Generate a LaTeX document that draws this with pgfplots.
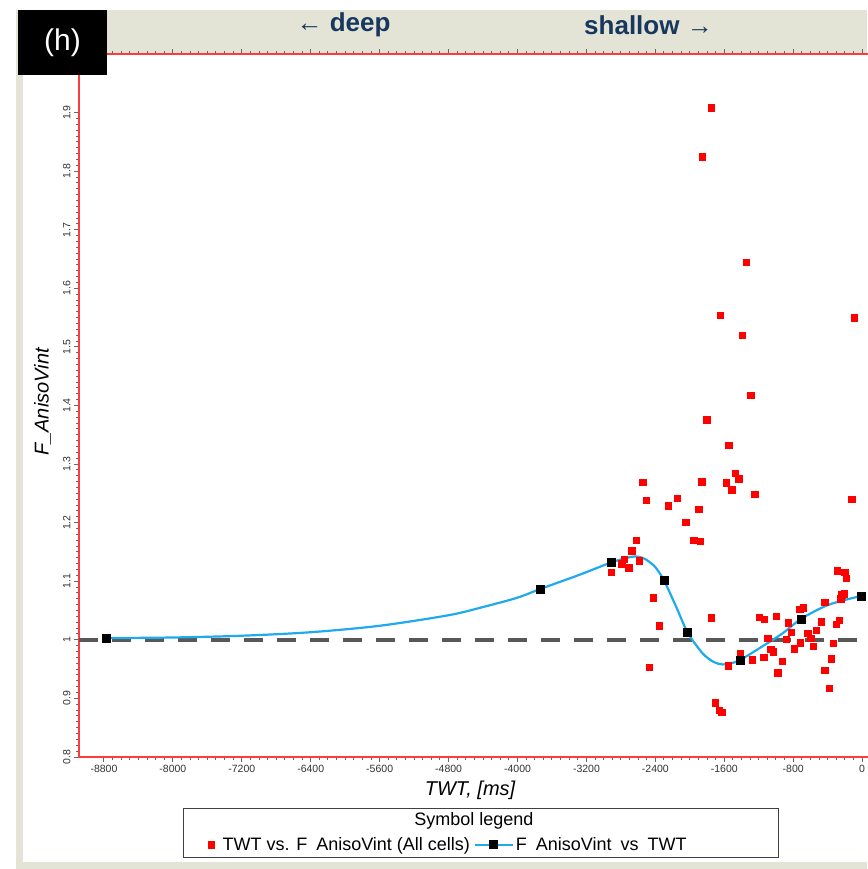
\documentclass[border=0pt]{standalone}
\usepackage{fontspec}
\setmainfont{Liberation Sans}
\usepackage{pgfplots}
\pgfplotsset{compat=1.18}

\definecolor{framebeige}{RGB}{228,228,214}
\definecolor{titlenavy}{RGB}{23,55,94}
\definecolor{curvecyan}{RGB}{30,170,235}
\definecolor{axisred}{RGB}{255,60,60}
\definecolor{refgrey}{RGB}{88,88,88}

\pgfplotsset{
    cyan legend/.style={legend image code/.code={\draw[##1, mark repeat=2, mark phase=2]
        plot coordinates {(0pt,0pt) (19pt,0pt) (38pt,0pt)};}},
}

\begin{document}
\begin{tikzpicture}
% page frame, in pixel units of the reference (axis corner at 79,112)
\begin{scope}[x=1pt, y=1pt, shift={(-79pt,-112pt)}]
\fill[white] (0,0) rectangle (867,869);
\fill[framebeige] (16,0) rectangle (23,859);
\fill[framebeige] (16,816) rectangle (867,859);
\fill[framebeige] (16,0) rectangle (867,7);
\end{scope}

\begin{axis}[
    scale only axis, width=790pt, height=703pt,
    xmin=-9090, xmax=80, ymin=0.8, ymax=2.0,
    xtick={-8800,-8000,...,0},
    ytick={0.8,0.9,...,1.9},
    minor x tick num=7, minor y tick num=9,
    xtick pos=both, ytick pos=left,
    tick align=outside,
    major tick length=5pt, minor tick length=3pt,
    every tick/.style={black!60, line width=1pt},
    axis line style={axisred, line width=1.5pt},
    /pgf/number format/.cd, 1000 sep={}, assume math mode=true, /pgfplots/.cd,
    tick label style={font=\fontsize{10.5}{12}\selectfont, text=black!80},
    xticklabel pos=lower,
    yticklabel style={rotate=90, anchor=south},
    xlabel={\itshape TWT, [ms]},
    ylabel={\itshape F\_AnisoVint},
    xlabel style={at={(axis description cs:0.495,-0.047)}, anchor=center, font=\fontsize{20}{22}\selectfont},
    ylabel style={at={(axis description cs:-0.046,0.505)}, anchor=center, rotate=0, font=\fontsize{20}{22}\selectfont},
    legend style={at={(0.1595,-0.1250)}, anchor=west, draw=none, fill=none,
        font=\fontsize{18}{20}\selectfont, legend columns=2,
        /tikz/every even column/.append style={column sep=2pt}},
    legend cell align=left,
]
% reference line at 1
\addplot[refgrey, line width=4.5pt, dash pattern=on 19pt off 14pt, forget plot]
    coordinates {(-9090,1) (-50,1)};

% TWT vs F_AnisoVint, all cells
\addplot[only marks, mark=square*, mark size=3.2pt, red, forget plot] table {
x y
-1754 1.908
-1856 1.825
-1345 1.645
-1650 1.554
-93 1.550
-1395 1.520
-1295 1.418
-1805 1.376
-1547 1.332
-2547 1.269
-1860 1.270
-1581 1.268
-1476 1.284
-1434 1.275
-1516 1.256
-1245 1.249
-121 1.240
-2508 1.238
-2149 1.242
-2249 1.229
-1898 1.223
-2046 1.201
-1956 1.170
-1882 1.168
-2624 1.170
-2675 1.152
-2760 1.138
-2791 1.130
-2586 1.135
-2709 1.123
-2914 1.115
-2428 1.072
-2358 1.024
-2470 0.953
-1752 1.038
-1704 0.893
-1658 0.880
-1631 0.876
-1557 0.956
-1418 0.977
-1279 0.966
-1194 1.039
-1137 1.035
-997 1.040
-1094 1.003
-1141 0.970
-1060 0.984
-1032 0.980
-978 0.944
-928 0.964
-882 1.001
-855 1.029
-824 1.013
-785 0.985
-723 1.052
-681 1.055
-716 0.995
-630 1.011
-596 1.003
-568 0.989
-534 1.016
-476 1.031
-434 1.064
-336 0.994
-356 0.968
-434 0.948
-383 0.917
-302 1.027
-267 1.034
-290 1.118
-201 1.115
-185 1.105
-236 1.077
-209 1.079
-248 1.070
};

% F_AnisoVint vs TWT, smoothed curve
\addplot[curvecyan, line width=2.2pt, smooth, no marks, forget plot] table {
x y
-8780 1.003
-8000 1.004
-7200 1.007
-6400 1.013
-5600 1.024
-4800 1.042
-4400 1.056
-4000 1.072
-3733 1.087
-3281 1.111
-2914 1.132
-2700 1.141
-2600 1.142
-2508 1.137
-2400 1.124
-2299 1.101
-2160 1.057
-2025 1.0125
-1852 0.977
-1720 0.962
-1620 0.958
-1520 0.960
-1411 0.966
-1156 0.989
-924 1.011
-707 1.036
-421 1.058
-200 1.068
-8 1.075
};
% control points of the curve
\addplot[only marks, mark=square*, mark size=4pt, black, forget plot] table {
x y
-8770 1.003
-3733 1.087
-2914 1.132
-2299 1.101
-2025 1.0125
-1411 0.966
-707 1.036
-8 1.075
};

\addlegendimage{only marks, mark=square*, mark size=3.2pt, red}
\addlegendentry{\hspace{6pt}TWT vs. F\enspace AnisoVint (All cells)}
\addlegendimage{curvecyan, line width=2pt, mark=square*, mark size=3.5pt,
    mark options={black, solid}, cyan legend}
\addlegendentry{F\enspace AnisoVint\enspace vs\enspace TWT}
\end{axis}

\begin{scope}[x=1pt, y=1pt, shift={(-79pt,-112pt)}]
% legend frame and title
\draw[black!75, line width=1pt] (183,12) rectangle (778,61);
\node[font=\fontsize{18}{20}\selectfont] at (474,48) {Symbol legend};
% direction labels
\node[font=\bfseries\fontsize{26}{28}\selectfont, text=titlenavy] at (343.5,844) {← deep};
\node[font=\bfseries\fontsize{26}{28}\selectfont, text=titlenavy] at (648.5,844) {shallow →};
% panel tag
\fill[black] (18,794) rectangle (107,859);
\node[white, font=\fontsize{30}{32}\selectfont] at (62.5,826) {(h)};
\end{scope}

% the page is exactly the reference frame
\pgfresetboundingbox
\path[use as bounding box] (-79pt,-112pt) rectangle (788pt,757pt);
\end{tikzpicture}
\end{document}
